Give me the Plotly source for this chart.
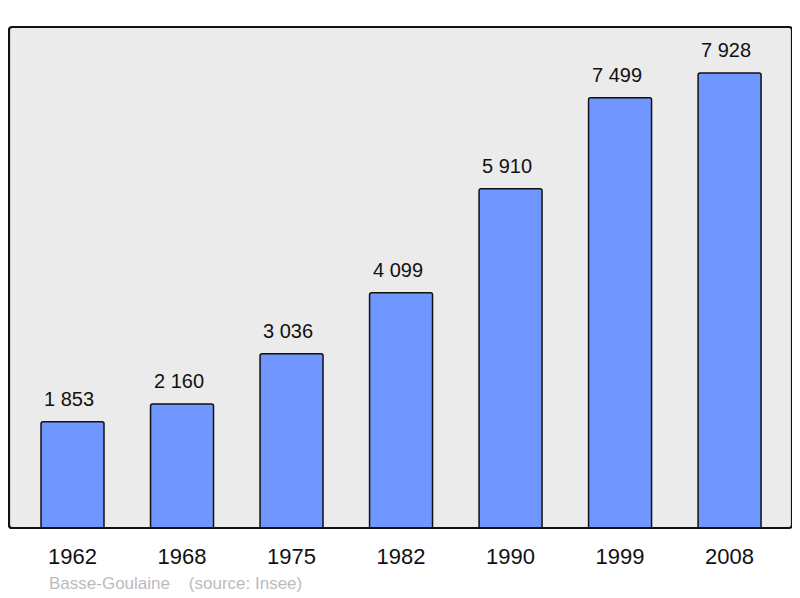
import plotly.graph_objects as go

years = ["1962", "1968", "1975", "1982", "1990", "1999", "2008"]
population = [1853, 2160, 3036, 4099, 5910, 7499, 7928]
labels = ["1 853", "2 160", "3 036", "4 099", "5 910", "7 499", "7 928"]

FONT = "Liberation Sans, Arial, sans-serif"
idx = list(range(len(years)))
BAR_W = 0.575

fig = go.Figure()
fig.add_trace(go.Bar(
    x=idx, y=population, width=BAR_W,
    marker=dict(color="#6f97ff", line=dict(color="#111111", width=1.5), cornerradius=2),
    hoverinfo="skip",
))
for i, v, t in zip(idx, population, labels):
    fig.add_annotation(x=i - BAR_W / 2, y=v, text=t, showarrow=False, xanchor="left", yanchor="bottom",
                       xshift=1, yshift=10,
                       font=dict(family=FONT, size=20, color="#111111"))

fig.add_shape(type="path", xref="paper", yref="paper",
              path="M 0.004 0 L 0.996 0 Q 1 0 1 0.006 L 1 0.994 Q 1 1 0.996 1 L 0.004 1 Q 0 1 0 0.994 L 0 0.006 Q 0 0 0.004 0 Z",
              line=dict(color="#111111", width=2.2), layer="above")

fig.add_annotation(xref="paper", yref="paper", x=(47-9)/783, y=-(583-528)/501, xanchor="left", yanchor="middle",
                   text="Basse-Goulaine &nbsp;&nbsp; (source: Insee)", showarrow=False,
                   font=dict(family=FONT, size=17, color="#bbbbbb"))

fig.update_layout(
    width=800, height=598,
    margin=dict(l=1, r=16, t=19, b=78),
    paper_bgcolor="white", plot_bgcolor="#ebebeb",
    showlegend=False,
    xaxis=dict(type="linear", range=[-0.58, 6.57], tickmode="array", tickvals=idx, ticktext=years,
               showgrid=False, zeroline=False, showline=False, ticks="",
               tickfont=dict(family=FONT, size=22, color="#111111"), ticklabelstandoff=13),
    yaxis=dict(range=[0, 8730], showgrid=False, zeroline=False, showticklabels=False, showline=False),
)
fig.write_html("out.html")
